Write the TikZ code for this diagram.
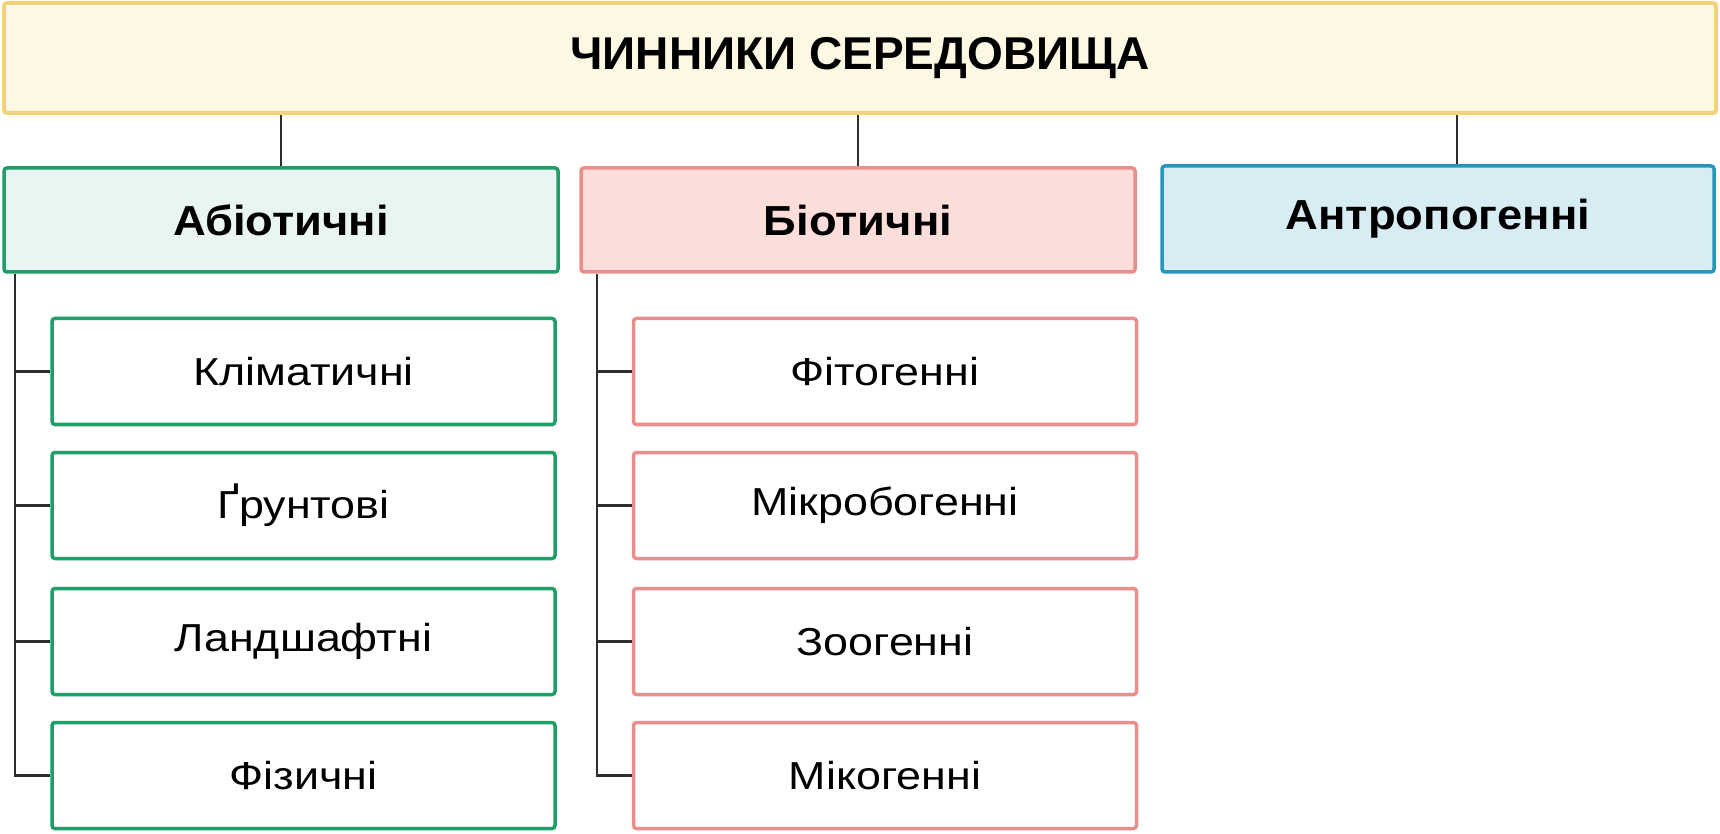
\documentclass[tikz,border=0pt]{standalone}
\usepackage{fontspec}
\setmainfont{Liberation Sans}
\newfontfamily\headfont[FakeStretch=1.08]{Liberation Sans}
\newfontfamily\subfont[FakeStretch=1.15]{Liberation Sans}
\definecolor{topfill}{HTML}{FDF8E3}
\definecolor{topline}{HTML}{F2D27A}
\definecolor{abfill}{HTML}{E9F5F2}
\definecolor{abline}{HTML}{1F9E68}
\definecolor{bifill}{HTML}{FBDDD9}
\definecolor{biline}{HTML}{E88F8C}
\definecolor{anfill}{HTML}{D7ECF3}
\definecolor{anline}{HTML}{2796BC}
\definecolor{conn}{HTML}{2E2E2E}
\begin{document}
\begin{tikzpicture}[x=0.5pt,y=-0.5pt,
  box/.style={draw,rectangle,rounded corners=1.5pt,line width=1.75pt,inner sep=0pt,align=center},
  topbox/.style={box,line width=2pt,draw=topline,fill=topfill,minimum width=856pt,minimum height=55pt,font=\fontsize{23}{26}\selectfont\bfseries},
  headbox/.style={box,minimum width=277pt,minimum height=52pt,font=\headfont\fontsize{21}{24}\selectfont\bfseries},
  subbox/.style={box,fill=white,minimum width=251.5pt,minimum height=53pt,font=\subfont\fontsize{19.5}{22}\selectfont},
  link/.style={draw=conn,line width=1.4pt}]
\useasboundingbox (0,0) rectangle (1720,834);
\fill[white] (0,0) rectangle (1720,834);
\node[topbox] (top) at (860,58) {ЧИННИКИ СЕРЕДОВИЩА};
\node[headbox,draw=abline,fill=abfill] (abio) at (281,220) {Абіотичні};
\node[headbox,draw=biline,fill=bifill] (bio) at (858,220) {Біотичні};
\node[headbox,draw=anline,fill=anfill,minimum width=276pt,minimum height=53pt] (anthro) at (1438,219) {Антропогенні};
\node[subbox,draw=abline] (a1) at (303.5,371.5) {Кліматичні};
\node[subbox,draw=abline] (a2) at (303.5,505.5) {Ґрунтові};
\node[subbox,draw=abline] (a3) at (303.5,641.5) {Ландшафтні};
\node[subbox,draw=abline] (a4) at (303.5,775.5) {Фізичні};
\node[subbox,draw=biline] (b1) at (885,371.5) {Фітогенні};
\node[subbox,draw=biline] (b2) at (885,505.5) {Мікробогенні};
\node[subbox,draw=biline] (b3) at (885,641.5) {Зоогенні};
\node[subbox,draw=biline] (b4) at (885,775.5) {Мікогенні};
\coordinate (c3) at (1457,0);
\coordinate (ta) at (15,0);
\coordinate (tb) at (597,0);
\draw[link] (top.south -| abio) -- (abio.north);
\draw[link] (top.south -| bio) -- (bio.north);
\draw[link] (top.south -| c3) -- (anthro.north -| c3);
\draw[link] (abio.south -| ta) |- (a4.west);
\draw[link] (ta |- a1.west) -- (a1.west);
\draw[link] (ta |- a2.west) -- (a2.west);
\draw[link] (ta |- a3.west) -- (a3.west);
\draw[link] (bio.south -| tb) |- (b4.west);
\draw[link] (tb |- b1.west) -- (b1.west);
\draw[link] (tb |- b2.west) -- (b2.west);
\draw[link] (tb |- b3.west) -- (b3.west);
\end{tikzpicture}
\end{document}
